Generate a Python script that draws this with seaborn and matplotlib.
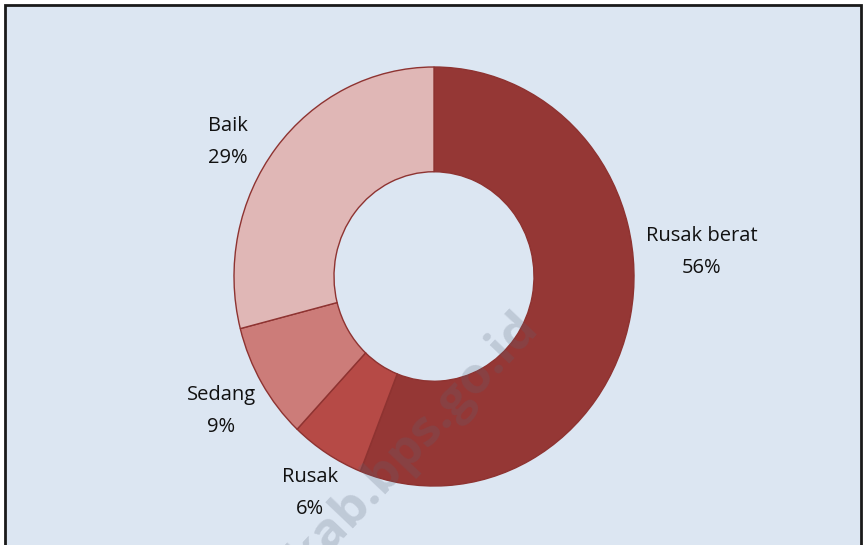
import matplotlib
matplotlib.use("Agg")
import matplotlib.pyplot as plt
import seaborn as sns
from matplotlib.patches import Rectangle

categories = ["Rusak berat", "Rusak", "Sedang", "Baik"]
values = [56, 6, 9, 29]
colors = ["#953735", "#B64A46", "#CC7C79", "#E0B7B6"]

sns.set_theme(style="white")
plt.rcParams["font.family"] = ["Open Sans", "DejaVu Sans"]

W, H = 863, 545
fig = plt.figure(figsize=(W / 100, H / 100), dpi=100, facecolor="white")

# chart area background with border
bg = Rectangle((5 / W, -0.01), (861 - 5) / W, (H - 5) / H + 0.01, transform=fig.transFigure,
               facecolor="#DCE6F2", edgecolor="#1a1a1a", linewidth=2.0, zorder=-10)
fig.patches.append(bg)

cx, cy, rx, ry = 434, 276.5, 200, 209.5
ax = fig.add_axes([(cx - rx) / W, (H - cy - ry) / H, 2 * rx / W, 2 * ry / H])
ax.set_zorder(2)
ax.set_facecolor("none")

wedges, _ = ax.pie(values, colors=colors, startangle=90, counterclock=False,
                   radius=1.0, wedgeprops=dict(width=0.5, edgecolor="#8E3331", linewidth=1.0))
ax.set_aspect("auto")
ax.set_xlim(-1, 1)
ax.set_ylim(-1, 1)
ax.axis("off")

def px2data(px, py):
    return (px - cx) / rx, (cy - py) / ry

label_px = {"Rusak berat": (702, 252), "Rusak": (310, 493), "Sedang": (221, 411), "Baik": (228, 142)}
for cat, v in zip(categories, values):
    x, y = px2data(*label_px[cat])
    fig.text(x, y, f"{cat}\n{v}%", ha="center", va="center", fontsize=14.5,
             color="#111111", linespacing=1.75, transform=ax.transData, zorder=10)

# watermark
fig.text(413 / W, (H - 442) / H, "kab.bps.go.id", rotation=46.5, ha="center", va="center",
         fontsize=37, fontweight="bold", color="#5A6678", alpha=0.22, zorder=5)

fig.savefig("out.png", dpi=100, facecolor="white")
